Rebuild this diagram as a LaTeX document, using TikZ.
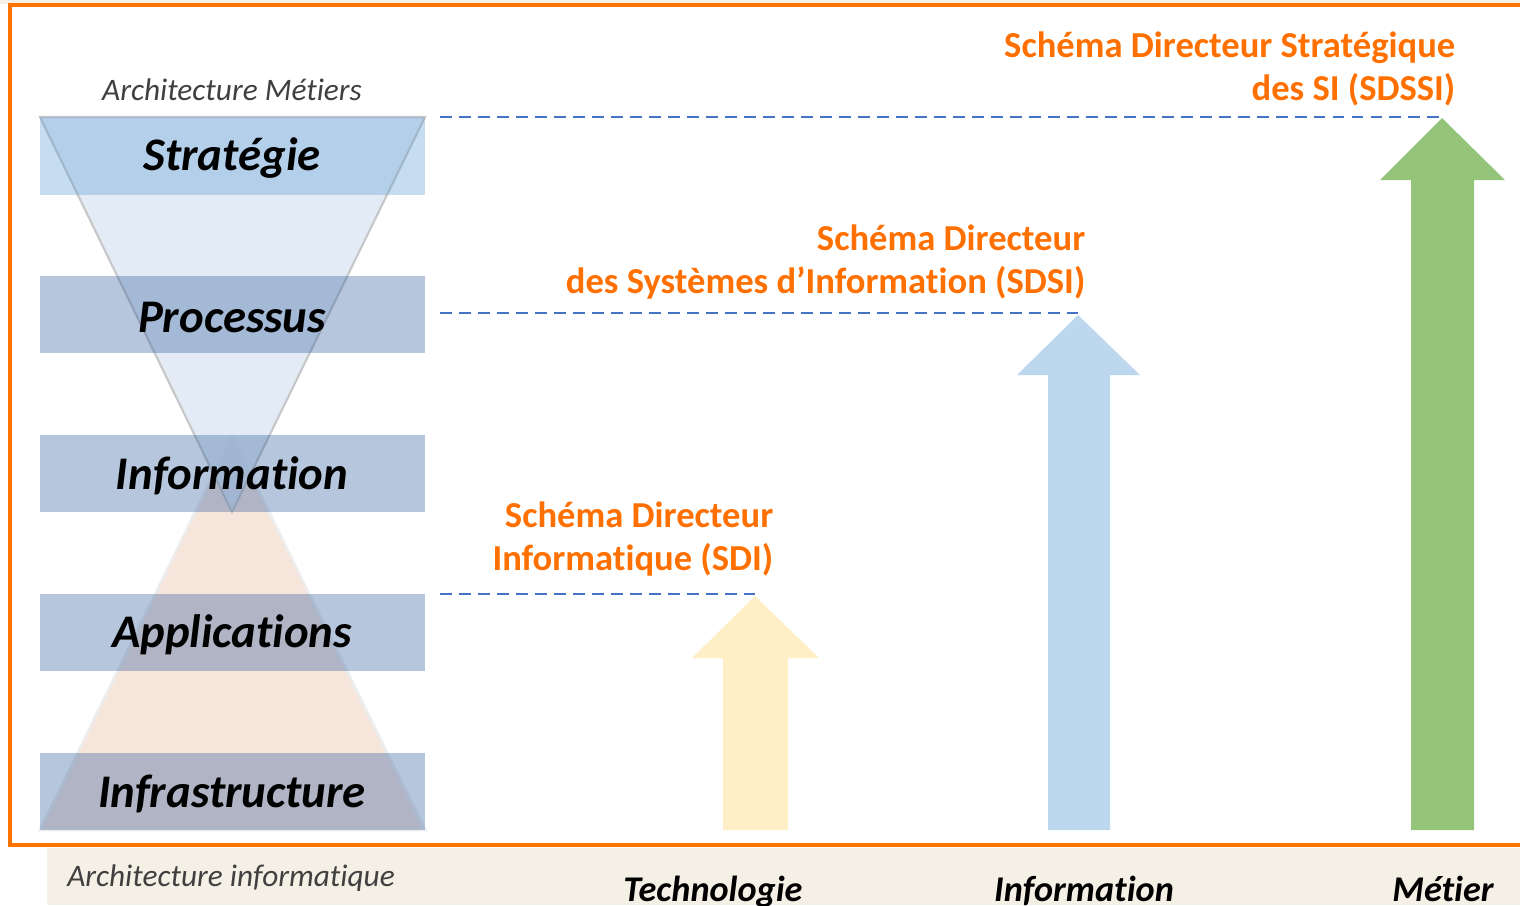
\documentclass[tikz,border=0pt]{standalone}
\usepackage{fontspec}
\setmainfont{Carlito}[Ligatures=NoCommon, Contextuals=NoAlternate]
\usetikzlibrary{calc}
\definecolor{frameorange}{HTML}{FF7300}
\definecolor{sdorange}{HTML}{FF7000}
\definecolor{paper}{HTML}{F5F0E5}
\definecolor{peach}{HTML}{F6E5DB}
\definecolor{tribleu}{HTML}{DEE8F4}
\definecolor{boxblue}{HTML}{2E5B9A}
\definecolor{topblue}{HTML}{5B9BD5}
\definecolor{dashblue}{HTML}{4472C4}
\definecolor{arrowyellow}{HTML}{FFEFC7}
\definecolor{arrowblue}{HTML}{BDD7EE}
\definecolor{arrowgreen}{HTML}{93C47A}
\tikzset{
	layer/.style={font=\fontsize{13.3}{16}\selectfont\bfseries\itshape, inner sep=0pt},
	archlabel/.style={font=\fontsize{8.9}{10}\selectfont\itshape, text=black!75, inner sep=0pt},
	sdlabel/.style={font=\fontsize{10.4}{12.2}\selectfont\bfseries, text=sdorange, align=right, inner sep=0pt, anchor=east},
	axislabel/.style={font=\fontsize{10.3}{13}\selectfont\bfseries\itshape, inner sep=0pt, anchor=base},
	levelline/.style={dashblue, line width=0.75pt, dash pattern=on 3.4pt off 2pt}
}

\begin{document}
\begin{tikzpicture}[x=0.01cm, y=-0.01cm]
		%%%%% START %%%%%
		\useasboundingbox (0,0) rectangle (1520,905);
		\fill[paper] (0,0) rectangle (1520,4);
		\fill[paper] (47,848) rectangle (1520,905);
		\draw[frameorange, line width=0.9pt] (1525,5) -- (10,5) -- (10,845) -- (1525,845);
		
		% the two triangles
		\draw[fill=peach, draw=black!7, line width=0.8pt] (232,437) -- (425,830) -- (40,830) -- cycle;
		\draw[fill=tribleu, fill opacity=0.85, draw=black!22, line width=0.6pt] (40,117) -- (425,117) -- (232,512) -- cycle;
		
		% the layers
		\fill[topblue, opacity=0.35] (40,117) rectangle (425,195);
		\fill[boxblue, opacity=0.35] (40,276) rectangle (425,353);
		\fill[boxblue, opacity=0.35] (40,435) rectangle (425,512);
		\fill[boxblue, opacity=0.35] (40,594) rectangle (425,671);
		\fill[boxblue, opacity=0.35] (40,753) rectangle (425,830);
		
		\node[layer] (strategie) at (232,158) {Stratégie};
		\node[layer] (processus) at (232,317) {Processus};
		\node[layer] (information) at (232,476) {Information};
		\node[layer] (applications) at (232,635) {Applications};
		\node[layer] (infrastructure) at (232,794) {Infrastructure};
		
		\node[archlabel] (metiers) at (232,90) {Architecture Métiers};
		\node[archlabel] (informatique) at (231,878) {Architecture informatique};
		
		% the block arrows
		\fill[arrowyellow] (755,596) -- (819,658) -- (788,658) -- (788,830) -- (723,830) -- (723,658) -- (692,658) -- cycle;
		\fill[arrowblue] (1078,315) -- (1140,375) -- (1110,375) -- (1110,830) -- (1048,830) -- (1048,375) -- (1017,375) -- cycle;
		\fill[arrowgreen] (1442,118) -- (1505,180) -- (1474,180) -- (1474,830) -- (1411,830) -- (1411,180) -- (1380,180) -- cycle;
		\coordinate (tipsdi) at (755,594);
		\coordinate (tipsdsi) at (1078,313);
		\coordinate (tipsdssi) at (1442,117);
		
		% the dashed levels
		\coordinate (lvlsdi) at (440,594);
		\coordinate (lvlsdsi) at (440,313);
		\coordinate (lvlsdssi) at (440,117);
		\draw[levelline] (lvlsdi) -- (tipsdi);
		\draw[levelline] (lvlsdsi) -- (tipsdsi);
		\draw[levelline] (lvlsdssi) -- (tipsdssi);
		
		\node[sdlabel] (sdi) at (774,539) {Schéma Directeur\\Informatique (SDI)};
		\node[sdlabel] (sdsi) at (1086,262) {Schéma Directeur\\des Systèmes d’Information (SDSI)};
		\node[sdlabel] (sdssi) at (1456,69) {Schéma Directeur Stratégique\\des SI (SDSSI)};
		
		\node[axislabel] (technologie) at (713,901) {Technologie};
		\node[axislabel] (infoaxe) at (1084,901) {Information};
		\node[axislabel] (metier) at (1443,901) {Métier};
		%%%%% END %%%%%
\end{tikzpicture}
\end{document}
